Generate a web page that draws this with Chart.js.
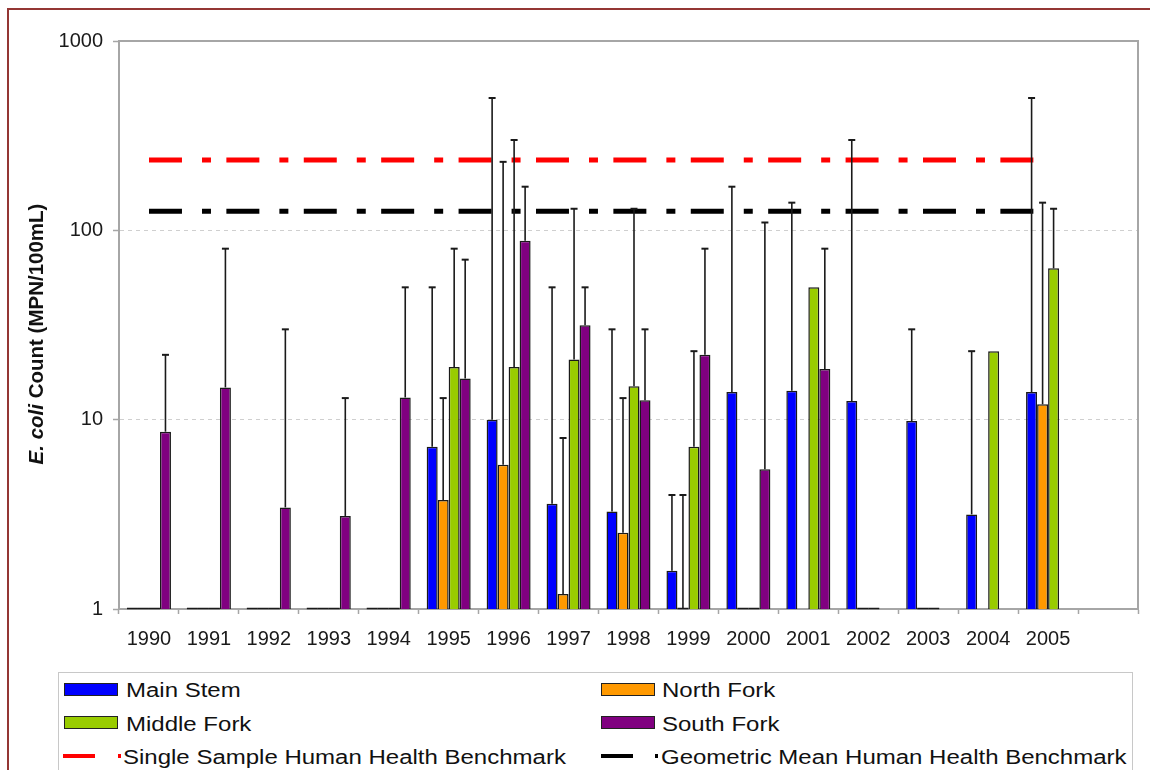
<!DOCTYPE html>
<html><head><meta charset="utf-8">
<script src="https://cdn.jsdelivr.net/npm/chart.js@4.4.1/dist/chart.umd.min.js"></script>
<style>
html,body{margin:0;padding:0;background:#fff;overflow:hidden;width:1150px;height:770px;}
#wrap{position:relative;width:1150px;height:770px;overflow:hidden;background:#fff;}
canvas{position:absolute;left:0;top:0;}
#frame{position:absolute;left:7px;top:8px;width:1300px;height:900px;border-left:2px solid #943634;border-top:2px solid #943634;pointer-events:none;}
#legend{position:absolute;left:58px;top:672px;width:1073px;height:140px;border:1px solid #c8c8c8;background:#fff;}
.sw{position:absolute;width:52px;height:11px;border:1.5px solid #222;}
.lt{position:absolute;font-family:'Liberation Sans',Arial,sans-serif;font-size:20px;line-height:20px;color:#111;white-space:nowrap;transform:scaleX(1.2);transform-origin:0 50%;}
.ln{position:absolute;height:4px;}
</style></head>
<body><div id="wrap"><canvas id="c" width="1150" height="770"></canvas>
<div id="legend"></div>
<div class="sw" style="left:64px;top:683px;background:#0000FF"></div><div class="lt" style="left:126px;top:680px">Main Stem</div>
<div class="sw" style="left:601px;top:683px;background:#FF9900"></div><div class="lt" style="left:662px;top:680px">North Fork</div>
<div class="sw" style="left:64px;top:716px;background:#99CC00"></div><div class="lt" style="left:126px;top:714px">Middle Fork</div>
<div class="sw" style="left:601px;top:716px;background:#800080"></div><div class="lt" style="left:662px;top:714px">South Fork</div>
<div class="ln" style="left:63px;top:754px;width:32px;background:#FF0000"></div><div class="ln" style="left:118px;top:754px;width:3px;background:#FF0000"></div><div class="lt" style="left:123px;top:747px">Single Sample Human Health Benchmark</div>
<div class="ln" style="left:601px;top:754px;width:32px;background:#000"></div><div class="ln" style="left:655px;top:754px;width:3px;background:#000"></div><div class="lt" style="left:661px;top:747px">Geometric Mean Human Health Benchmark</div>
<div id="frame"></div></div>
<script>
const years = ['1990','1991','1992','1993','1994','1995','1996','1997','1998','1999','2000','2001','2002','2003','2004','2005',''];
const mainStem      = [1,1,1,1,1,7.2,10,3.6,3.27,1.59,14,14.2,12.55,9.84,3.16,14,null];
const mainStemErr   = [null,null,null,null,null,50,500,50,30,4,170,140,300,30,23,500,null];
const northFork     = [1,1,1,1,1,3.76,5.78,1.2,2.53,1,1,null,1,1,null,12.05,null];
const northForkErr  = [null,null,null,null,null,13,230,8,13,4,null,null,null,null,null,140,null];
const middleFork    = [1,1,1,1,1,19,19,20.8,15,7.2,1,50,1,1,23,63,null];
const middleForkErr = [null,null,null,null,null,80,300,130,130,23,null,null,null,null,null,130,null];
const southFork     = [8.64,14.8,3.44,3.1,13.1,16.5,88,31.5,12.65,22,5.47,18.5,null,null,null,null,null];
const southForkErr  = [22,80,30,13,50,70,170,50,30,80,110,80,null,null,null,null,null];
const singleSample  = [235,235,235,235,235,235,235,235,235,235,235,235,235,235,235,235,null];
const geoMean       = [126,126,126,126,126,126,126,126,126,126,126,126,126,126,126,126,null];
const yTicks = [1,10,100,1000];

const errSets = [mainStemErr, northForkErr, middleForkErr, southForkErr];
const GRAY = '#A6A6A6';

const errPlugin = {
  id:'errbars',
  afterDatasetsDraw(chart){
    const ctx = chart.ctx, ys = chart.scales.y;
    errSets.forEach((errs, di) => {
      const meta = chart.getDatasetMeta(di);
      meta.data.forEach((el, j) => {
        const v = chart.data.datasets[di].data[j];
        if (v == null) return;
        ctx.save();
        ctx.strokeStyle = '#1a1a1a';
        if (v === 1) {
          ctx.lineWidth = 1.5;
          ctx.beginPath();
          ctx.moveTo(el.x - el.width/2, ys.bottom - 0.5);
          ctx.lineTo(el.x + el.width/2, ys.bottom - 0.5);
          ctx.stroke();
        }
        const e = errs[j];
        if (e != null) {
          const yt = ys.getPixelForValue(e);
          ctx.lineWidth = 1.6;
          ctx.beginPath();
          ctx.moveTo(el.x, el.y);
          ctx.lineTo(el.x, yt);
          ctx.stroke();
          ctx.lineWidth = 2;
          ctx.beginPath();
          ctx.moveTo(el.x - 3.5, yt);
          ctx.lineTo(el.x + 3.5, yt);
          ctx.stroke();
        }
        ctx.restore();
      });
    });
  }
};

const framePlugin = {
  id:'plotframe',
  beforeDatasetsDraw(chart){
    const {ctx, chartArea:a} = chart;
    ctx.save();
    ctx.strokeStyle = GRAY; ctx.lineWidth = 2;
    ctx.beginPath();
    ctx.moveTo(a.left, a.top); ctx.lineTo(a.right, a.top); ctx.lineTo(a.right, a.bottom);
    ctx.stroke();
    ctx.restore();
  },
  afterDraw(chart){
    const ctx = chart.ctx;
    ctx.save();
    ctx.translate(37, 334);
    ctx.rotate(-Math.PI/2);
    ctx.fillStyle = '#111';
    ctx.textBaseline = 'middle';
    const f1 = "italic bold 20.5px 'Liberation Sans', Arial, sans-serif";
    const f2 = "bold 20.5px 'Liberation Sans', Arial, sans-serif";
    const t1 = 'E. coli', t2 = ' Count (MPN/100mL)';
    ctx.font = f1; const w1 = ctx.measureText(t1).width;
    ctx.font = f2; const w2 = ctx.measureText(t2).width;
    let x = -(w1 + w2)/2;
    ctx.font = f1; ctx.fillText(t1, x, 0);
    ctx.font = f2; ctx.fillText(t2, x + w1, 0);
    ctx.restore();
  }
};

Chart.defaults.font.family = "'Liberation Sans', Arial, sans-serif";
const barDs = (label, data, color) => ({
  type:'bar', label, data, backgroundColor:color, borderColor:'#1a1a1a', borderWidth:1.5,
  borderSkipped:'bottom', categoryPercentage:0.734, barPercentage:1.0, order:2
});
const lineDs = (label, data, color) => ({
  type:'line', label, data, borderColor:color, backgroundColor:color, borderWidth:5,
  borderDash:[33,20,9,15.4], borderCapStyle:'butt', pointRadius:0, fill:false, order:1, tension:0
});

new Chart(document.getElementById('c'), {
  data: {
    labels: years,
    datasets: [
      barDs('Main Stem', mainStem, '#0000FF'),
      barDs('North Fork', northFork, '#FF9900'),
      barDs('Middle Fork', middleFork, '#99CC00'),
      barDs('South Fork', southFork, '#800080'),
      lineDs('Single Sample Human Health Benchmark', singleSample, '#FF0000'),
      lineDs('Geometric Mean Human Health Benchmark', geoMean, '#000000')
    ]
  },
  options: {
    responsive:false, animation:false,
    layout:{padding:{left:0, top:41, right:12, bottom:121}},
    plugins:{legend:{display:false}, tooltip:{enabled:false}, title:{display:false}},
    scales:{
      x:{
        offset:true,
        grid:{display:true, drawOnChartArea:false, drawTicks:true, tickLength:5, tickColor:GRAY, tickWidth:1.5, offset:true},
        border:{display:true, color:GRAY, width:2},
        ticks:{color:'#1a1a1a', font:{size:20}, padding:13, maxRotation:0, autoSkip:false},
        afterFit(s){ s.height = 40; }
      },
      y:{
        type:'logarithmic', min:1, max:1000,
        afterBuildTicks(s){ s.ticks = yTicks.map(v => ({value:v})); },
        grid:{display:true, drawTicks:true, tickLength:6, tickColor:GRAY, tickWidth:1.5,
          color:(c) => (c.tick && (c.tick.value === 10 || c.tick.value === 100)) ? '#cfcfcf' : 'rgba(0,0,0,0)', lineWidth:1},
        border:{display:true, color:GRAY, width:2, dash:[4,4]},
        ticks:{color:'#1a1a1a', font:{size:20}, padding:10, callback:(v) => String(v)},
        afterFit(s){ s.width = 119; }
      }
    }
  },
  plugins:[errPlugin, framePlugin]
});
</script>
</body></html>
